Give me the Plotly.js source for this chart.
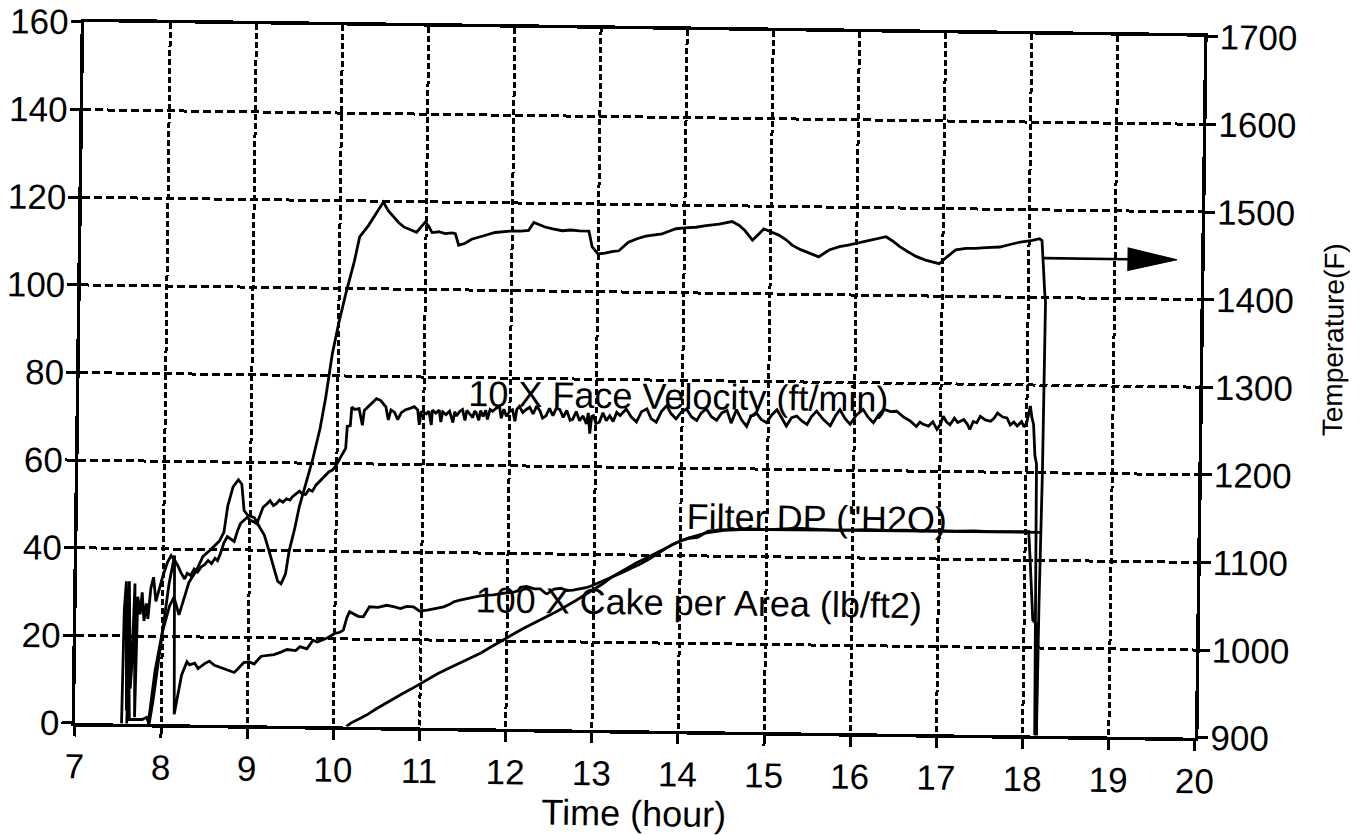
<!DOCTYPE html>
<html>
<head>
<meta charset="utf-8">
<script src="https://cdn.plot.ly/plotly-3.0.1.min.js"></script>
<style>
html,body{margin:0;padding:0;background:#fff;overflow:hidden;}
#chart{width:1370px;height:835px;transform:rotate(0.75deg);transform-origin:75px 723px;}
</style>
</head>
<body>
<div id="chart"></div>
<script>
// ---------------- DATA ----------------
// Temperature (F), right axis
const tempHours = [7.85,7.92,8.0,8.08,8.13,8.19,8.25,8.3,8.38,8.46,8.55,8.65,8.7,8.74,8.8,8.86,8.9,8.93,8.97,9.05,9.12,9.17,9.23,9.28,9.33,9.37,9.42,9.46,9.52,9.57,9.65,9.72,9.8,9.86,9.93,10.0,10.08,10.17,10.23,10.33,10.45,10.5,10.56,10.62,10.68,10.74,10.79,10.84,10.89,10.94,10.99,11.03,11.07,11.15,11.22,11.3,11.34,11.38,11.45,11.53,11.62,11.7,11.8,11.9,12.0,12.1,12.19,12.25,12.31,12.38,12.47,12.58,12.68,12.78,12.89,12.93,13.0,13.08,13.16,13.24,13.35,13.45,13.55,13.65,13.74,13.82,13.9,14.0,14.13,14.25,14.4,14.55,14.63,14.7,14.79,14.86,14.92,15.0,15.1,15.18,15.25,15.35,15.45,15.56,15.68,15.8,15.9,15.99,16.08,16.18,16.26,16.34,16.42,16.5,16.6,16.69,16.8,16.9,16.96,17.05,17.15,17.27,17.38,17.5,17.66,17.78,17.9,18.04,18.12,18.15,18.17,18.19,18.2,18.19,18.17,18.16];
const tempDegF = [900,960,1005,1035,1045,1025,1045,1062,1075,1092,1100,1110,1120,1150,1172,1180,1175,1145,1140,1137,1125,1117,1098,1080,1065,1062,1073,1100,1125,1150,1180,1205,1240,1275,1325,1360,1395,1430,1459,1472,1491,1499,1489,1482,1476,1471,1469,1467,1465,1471,1477,1472,1465,1466,1464,1465,1464,1451,1453,1458,1461,1463,1466,1467,1468,1468,1469,1478,1476,1473,1471,1469,1470,1469,1469,1451,1443,1444,1446,1447,1457,1461,1464,1466,1467,1470,1473,1474,1475,1477,1479,1482,1478,1472,1461,1468,1474,1471,1467,1462,1456,1451,1447,1443,1451,1455,1457,1459,1461,1463,1465,1467,1462,1456,1450,1445,1441,1438,1437,1445,1453,1455,1455,1456,1457,1460,1463,1465,1467,1465,1430,1405,1395,1200,1050,900];

// 10 X Face Velocity (ft/min), left axis
const velHours = [7.54,7.555,7.575,7.595,7.61,7.635,7.65,7.675,7.69,7.71,7.74,7.76,7.785,7.81,7.83,7.86,7.89,7.92,7.96,8.0,8.05,8.09,8.13,8.17,8.21,8.25,8.28,8.32,8.36,8.4,8.44,8.48,8.52,8.56,8.6,8.63,8.66,8.7,8.74,8.78,8.82,8.86,8.89,8.93,8.97,9.0,9.04,9.08,9.12,9.15,9.19,9.23,9.27,9.3,9.34,9.38,9.42,9.46,9.49,9.53,9.57,9.6,9.64,9.68,9.72,9.76,9.8,9.84,9.88,9.91,9.95,9.99,10.03,10.07,10.1,10.115,10.15,10.165,10.2,10.25,10.29,10.31,10.33,10.37,10.41,10.45,10.5,10.53,10.56,10.59,10.62,10.66,10.7,10.74,10.79,10.84,10.89,10.93,10.95,10.97,10.99,11.03,11.06,11.09,11.1,11.14,11.18,11.2,11.22,11.26,11.3,11.34,11.36,11.38,11.42,11.45,11.48,11.5,11.54,11.57,11.59,11.61,11.64,11.66,11.69,11.72,11.74,11.77,11.8,11.84,11.88,11.9,11.93,11.96,12.0,12.03,12.06,12.08,12.11,12.15,12.19,12.23,12.27,12.31,12.35,12.38,12.42,12.46,12.5,12.54,12.58,12.62,12.66,12.7,12.73,12.77,12.81,12.85,12.89,12.91,12.93,12.95,12.97,13.0,13.04,13.08,13.12,13.16,13.2,13.24,13.28,13.32,13.35,13.41,13.47,13.53,13.59,13.64,13.7,13.76,13.82,13.87,13.93,13.99,14.05,14.11,14.17,14.22,14.28,14.34,14.4,14.46,14.52,14.57,14.63,14.69,14.75,14.8,14.86,14.92,14.98,15.04,15.1,15.16,15.21,15.27,15.33,15.39,15.45,15.5,15.56,15.64,15.72,15.78,15.83,15.89,15.95,16.02,16.1,16.16,16.22,16.28,16.34,16.42,16.49,16.57,16.65,16.72,16.76,16.8,16.86,16.91,16.96,17.0,17.03,17.07,17.11,17.16,17.2,17.27,17.31,17.34,17.38,17.42,17.46,17.52,17.58,17.62,17.66,17.72,17.77,17.81,17.85,17.89,17.94,17.97,18.0,18.02,18.04,18.06,18.08,18.1,18.12,18.13,18.14];
const velValues = [0,26,32.5,3,32.5,8,13,32,1.5,29,25,30,23.5,27.5,24,31,33.5,28,31,34,37,38.5,37.5,36.2,34.5,33.2,34.5,34,35.5,34.8,36,36.5,37.5,36.8,38,37.5,39,41.5,43,42.5,41.9,44.5,46,46.8,47.5,46.8,46.5,46,48,49.8,50.5,51.3,50.2,50.6,51.5,51,51.8,51.5,52.3,53,53.6,53,52.8,54,53.6,55,55.8,56.6,57.5,58.1,58.5,59.5,61,62.5,63.5,68.5,68.7,72.9,72.4,72.6,68.8,72.2,72.6,73.5,74.2,74.9,74.5,73.8,73.1,70.1,72.4,71.9,70.2,71.8,72.5,72.8,73.2,72.5,69.1,72,72.1,71.6,72.2,69.1,72.5,71.8,72.5,69.8,72.1,71.5,72.3,69.7,72.2,71.2,72.3,72.7,70.2,72.5,71.6,70.9,72.4,72,70.3,72.5,71.2,72.6,70.5,72.8,72.4,73.1,73.5,70.8,72.9,71.3,72.5,72.8,70.2,72.9,73.6,72.2,72.9,73.4,71.9,73.7,72.6,71,71.5,73.2,71.6,73.3,73,71.2,72.8,70.6,70.8,72.6,70.5,71.6,69.8,72.3,67.6,71.5,71.7,69.9,70.2,72.4,70.6,71.7,70.4,72.5,71.8,72.6,73.3,71.5,70.4,72.8,73.4,71.2,70.4,72.9,74.2,72.4,71.2,72.8,73.5,71.7,70.9,72.6,73.6,71.8,71,72.7,73.3,70.4,73.5,71.2,69.7,72.1,72.8,71.3,70.6,72.4,73.6,71.6,69.9,71.8,72.2,71.1,70.3,72.1,73.4,71.5,70.1,72.4,73.8,71.8,70.5,72.6,73.9,72.1,70.9,72.7,74,73.5,73.6,72.3,71.4,70.2,71.2,70.7,70.3,71.3,69.6,70.8,72.6,71.3,70.7,72.2,71.2,71.9,70.9,69.7,71.5,71.2,72.7,71.9,71.6,72.3,73.5,72.6,72.4,70.8,71.5,70.6,71.6,70.4,71.4,73.2,75.2,72.5,71,63.9,62,30,0];

// Filter DP ("H2O), left axis
const dpHours = [7.6,7.615,7.63,7.7,7.78,7.83,7.86,7.9,7.96,8.02,8.07,8.11,8.13,8.14,8.15,8.19,8.23,8.29,8.32,8.38,8.42,8.5,8.55,8.61,8.67,8.73,8.79,8.84,8.88,8.92,8.95,9.01,9.07,9.15,9.22,9.3,9.38,9.45,9.55,9.6,9.68,9.75,9.8,9.87,9.92,10.0,10.06,10.1,10.14,10.17,10.21,10.27,10.33,10.4,10.5,10.6,10.68,10.76,10.83,10.91,10.98,11.07,11.16,11.26,11.33,11.38,11.45,11.53,11.6,11.68,11.76,11.84,11.92,12.0,12.07,12.12,12.15,12.22,12.31,12.38,12.44,12.46,12.5,12.54,12.62,12.69,12.76,12.85,12.91,12.97,13.04,13.08,13.16,13.24,13.33,13.43,13.52,13.62,13.72,13.82,13.91,14.01,14.1,14.2,14.27,14.32,14.45,14.63,14.8,15.0,15.2,15.4,15.6,15.8,16.0,16.2,16.4,16.6,16.8,17.0,17.2,17.4,17.6,17.8,18.0,18.04,18.06,18.08,18.1,18.13,18.15,18.16];
const dpValues = [0,14,1,1,1,1.5,0,5,14,24,32,37,38.5,20,2.3,6.8,11.3,14.3,13.6,14,12.8,14,14.5,13.6,13.2,12.8,12.5,12,12.8,13.6,14.3,14.5,14,15.8,16,16.2,16.8,17.4,17.2,18.1,17.6,19.6,19.2,19.8,20.2,21.2,21.5,22,24.9,26.2,25.8,25.2,25.1,27.4,27.3,27.8,27.5,27.1,27.6,27.5,26.6,26.8,27.2,27.6,28.2,28.8,29.2,29.6,29.8,30.2,30.4,30.5,30.8,31,31.2,31.5,32.3,32.5,32,32,31,30.9,31.5,32,32.2,31.7,31.8,32.1,32.4,32.8,33.4,33.9,34.5,35.1,36,37,37.8,38.9,40.2,41.5,42.6,43.4,44,44.2,45,45.7,46,46.1,46.3,46.2,46.4,46.6,46.4,46.3,46.4,46.5,46.4,46.5,46.4,46.5,46.4,46.5,46.4,46.5,46.5,46.5,40.4,32,26.4,25.7,25.5,0];

// 100 X Cake per Area (lb/ft2), left axis
const cakeHours = [10.15,10.2,10.3,10.4,10.5,10.6,10.7,10.8,10.9,11.0,11.1,11.2,11.3,11.4,11.5,11.6,11.7,11.8,11.9,12.0,12.1,12.2,12.3,12.4,12.5,12.6,12.7,12.8,12.9,13.0,13.1,13.2,13.3,13.4,13.5,13.6,13.7,13.8,13.9,14.0,14.1,14.2,14.3,14.4,14.5,14.7,15.0,16.0,17.0,18.0,18.19];
const cakeValues = [0,0.8,1.8,2.9,4.2,5.4,6.5,7.7,8.8,10,11.2,12.3,13.3,14.3,15.3,16.2,17.2,18.4,19.6,20.7,21.9,23,24,25,26.1,27.2,28.3,29.5,30.8,32,33.3,34.8,36,37.3,38.3,39.3,40.3,41.4,42.4,43.4,44.1,44.7,45.3,45.6,45.9,46.1,46.2,46.3,46.3,46.4,46.4];

// Axis ticks
const xTicks = [7,8,9,10,11,12,13,14,15,16,17,18,19,20];
const leftTicks = [0,20,40,60,80,100,120,140,160];
const rightTicks = [900,1000,1100,1200,1300,1400,1500,1600,1700];

// Labels
const seriesLabels = [
  {text:'10 X Face Velocity (ft/min)', hour:13.95, value:76.3},
  {text:'Filter DP ("H2O)', hour:15.58, value:49.0},
  {text:'100 X Cake per Area (lb/ft2)', hour:14.22, value:29.3}
];
// Arrow pointing to the temperature axis
const arrowStartHour = 18.17, arrowEndHour = 19.72, arrowTempF = 1445;

// ---------------- CHART ----------------
const FONT = 'Liberation Sans, Arial, Helvetica, sans-serif';
const lineStyle = {color:'#000', width:2.8};

const traces = [
  {x:tempHours, y:tempDegF, yaxis:'y2', mode:'lines', line:lineStyle, hoverinfo:'skip', name:'Temperature'},
  {x:velHours, y:velValues, mode:'lines', line:lineStyle, hoverinfo:'skip', name:'Velocity'},
  {x:dpHours, y:dpValues, mode:'lines', line:lineStyle, hoverinfo:'skip', name:'DP'},
  {x:cakeHours, y:cakeValues, mode:'lines', line:lineStyle, hoverinfo:'skip', name:'Cake'}
];

const headLen = 0.57, headHalf = 13; // head size in axis units (hours, deg F)
const shapes = [
  {type:'line', xref:'x', yref:'y2', x0:arrowStartHour, x1:arrowEndHour - headLen, y0:arrowTempF, y1:arrowTempF, line:{color:'#000', width:2.6}},
  {type:'path', xref:'x', yref:'y2',
   path:'M '+(arrowEndHour-headLen)+' '+(arrowTempF-headHalf)+' L '+arrowEndHour+' '+arrowTempF+' L '+(arrowEndHour-headLen)+' '+(arrowTempF+headHalf)+' Z',
   fillcolor:'#000', line:{color:'#000', width:1}}
];

const annotations = seriesLabels.map(l => ({
  text:l.text, x:l.hour, y:l.value, xref:'x', yref:'y', showarrow:false,
  xanchor:'center', yanchor:'middle', font:{family:FONT, size:36, color:'#000'}
}));
annotations.push({
  text:'Temperature(F)', xref:'paper', yref:'paper', x:1.119, y:0.57,
  showarrow:false, textangle:-90, xanchor:'center', yanchor:'middle',
  font:{family:FONT, size:28, color:'#000'}
});

const axisCommon = {
  ticks:'outside', ticklen:10, tickwidth:3, tickcolor:'#000',
  showline:true, linewidth:3.5, linecolor:'#000', zeroline:false,
  tickfont:{family:FONT, size:35, color:'#000'}
};

const layout = {
  width:1370, height:835,
  margin:{l:75, r:175, t:22, b:112},
  paper_bgcolor:'rgba(0,0,0,0)', plot_bgcolor:'rgba(0,0,0,0)',
  font:{family:FONT, size:35, color:'#000'},
  showlegend:false,
  xaxis:Object.assign({}, axisCommon, {
    range:[7,20], tickmode:'array', tickvals:xTicks, ticktext:xTicks.map(String),
    mirror:true, showgrid:true, gridcolor:'#000', gridwidth:3, griddash:'6px,3px',
    title:{text:'Time (hour)', font:{family:FONT, size:36, color:'#000'}, standoff:0}
  }),
  yaxis:Object.assign({}, axisCommon, {
    range:[0,160], tickmode:'array', tickvals:leftTicks, ticktext:leftTicks.map(String),
    showgrid:true, gridcolor:'#000', gridwidth:3, griddash:'8px,4px', ticklabelstandoff:-5
  }),
  yaxis2:Object.assign({}, axisCommon, {
    range:[900,1700], tickmode:'array', tickvals:rightTicks, ticktext:rightTicks.map(String),
    overlaying:'y', side:'right', showgrid:false, ticklabelstandoff:-5
  }),
  shapes:shapes,
  annotations:annotations
};

Plotly.newPlot('chart', traces, layout, {staticPlot:true, displayModeBar:false});
</script>
</body>
</html>
